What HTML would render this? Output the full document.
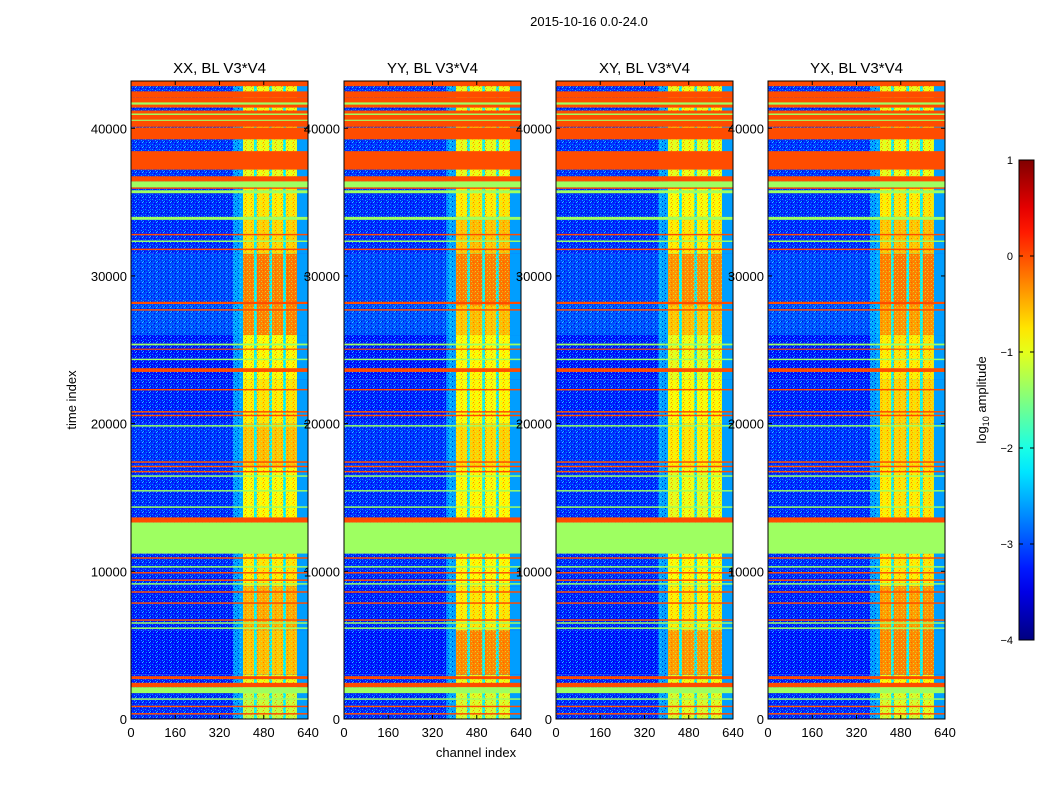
<!DOCTYPE html>
<html><head><meta charset="utf-8"><style>
body{margin:0;background:#fff;width:1050px;height:800px;overflow:hidden;font-family:"Liberation Sans",sans-serif}
svg{display:block}
</style></head><body>
<svg id="fig" width="1050" height="800" xmlns="http://www.w3.org/2000/svg">
<defs>
<pattern id="noise" width="7" height="5" patternUnits="userSpaceOnUse">
<rect x="1" y="0" width="1" height="1" fill="#00c8ff"/>
<rect x="4" y="1" width="1" height="1" fill="#0000c0"/>
<rect x="2" y="2" width="1" height="1" fill="#40e0ff"/>
<rect x="6" y="2" width="1" height="1" fill="#0090ff"/>
<rect x="0" y="3" width="1" height="1" fill="#0000d8"/>
<rect x="5" y="4" width="1" height="1" fill="#00b0ff"/>
<rect x="3" y="4" width="1" height="1" fill="#0070ff"/>
<rect x="6" y="0" width="1" height="1" fill="#0030ff"/>
<rect x="3" y="1" width="1" height="1" fill="#00e0ff"/>
</pattern>
<pattern id="rfinoise" width="6" height="4" patternUnits="userSpaceOnUse">
<rect x="0" y="0" width="1" height="1" fill="#ff9000"/>
<rect x="3" y="1" width="1" height="1" fill="#a0ff60"/>
<rect x="5" y="2" width="1" height="1" fill="#ff5000"/>
<rect x="1" y="3" width="1" height="1" fill="#c0ff40"/>
<rect x="4" y="3" width="1" height="1" fill="#ffc000"/>
</pattern>
<linearGradient id="jet" x1="0" y1="1" x2="0" y2="0"></linearGradient>
</defs>
<text x="589" y="26" font-size="13" text-anchor="middle">2015-10-16 0.0-24.0</text>
<text x="476" y="757" font-size="13" text-anchor="middle">channel index</text>
<text transform="translate(76,400) rotate(-90)" font-size="13" text-anchor="middle">time index</text>
<g id="cb">
<rect x="1019" y="160" width="15" height="480" fill="url(#jet)" stroke="#000" stroke-width="1"/>
</g>
<text transform="translate(986,400) rotate(-90)" font-size="13" text-anchor="middle">log<tspan font-size="9" dy="3">10</tspan><tspan dy="-3"> amplitude</tspan></text>
</svg>
<script>
const titles = ["XX, BL V3*V4","YY, BL V3*V4","XY, BL V3*V4","YX, BL V3*V4"];
const xTicks = [0,160,320,480,640];
const yTicks = [0,10000,20000,30000,40000];
const cbTicks = [1,0,-1,-2,-3,-4];
// time bands: start, end, background log-amplitude
const bandStart = [0,2000,3000,6000,9000,13300,17000,20000,23000,26000,28000,31500,34000,36000];
const bandEnd   = [2000,3000,6000,9000,11200,17000,20000,23000,26000,28000,31500,34000,36000,43200];
const bgLevel   = [-3.2,-3.25,-3.3,-3.25,-3.2,-3.2,-3.15,-3.25,-3.3,-3.0,-3.05,-3.2,-3.2,-3.15];
// RFI column level per band, per panel
const rfiXX = [-1.2,-1.0,-0.6,-0.5,-0.8,-0.9,-0.6,-0.8,-0.9,-0.3,-0.25,-0.7,-0.8,-1.0];
const rfiYY = [-1.1,-1.0,-0.3,-0.8,-0.9,-0.9,-0.7,-0.9,-0.9,-0.6,-0.25,-0.6,-0.8,-1.0];
const rfiXY = [-1.1,-1.0,-0.4,-0.8,-0.9,-1.0,-0.8,-0.9,-1.0,-0.6,-0.35,-0.8,-0.9,-1.0];
const rfiYX = [-1.1,-0.9,-0.3,-0.4,-0.8,-0.8,-0.7,-0.7,-0.8,-0.4,-0.25,-0.6,-0.8,-1.0];
const rfiSets = [rfiXX,rfiYY,rfiXY,rfiYX];
const rfiColStart = [405,455,510,560];
const rfiColEnd   = [445,500,550,600];
// flagged bands
const orangeStart = [42850,42100,41400,40100,39250,37200,36400,35900,32750,31750,28100,27650,25000,23500,22250,20750,20500,17350,17050,16700,13300,10850,9850,9350,8550,7800,6650,2700,2150,800,300];
const orangeEnd   = [43200,42500,42100,41200,40050,38450,36750,36000,32850,31850,28250,27750,25080,23750,22350,20850,20600,17450,17150,16800,13650,10950,9950,9450,8650,7900,6750,2900,2450,900,400];
const greenStart = [41600,40900,40500,36000,35600,33800,32300,25300,24300,19800,16400,15400,14300,11200,10250,9100,6450,6100,1750,1300];
const greenEnd   = [41750,41000,40580,36400,35800,34000,32400,25420,24400,19900,16500,15500,14400,13300,10350,9200,6550,6200,2150,1400];
const orangeLevel = 0.0, greenLevel = -1.35, gapLevel = -2.2, edgeLevel = -2.6;

const panelX = [131,344,556,768], panelW = 177, plotTop = 81, plotBottom = 719, tMax = 43200;
const vmin = -4, vmax = 1;
function jetX(x){
  x = Math.max(0,Math.min(1,x));
  const c = k => Math.round(255*Math.max(0,Math.min(1,1.5-Math.abs(4*x-k))));
  return `rgb(${c(3)},${c(2)},${c(1)})`;
}
function jet(v){ return jetX((v-vmin)/(vmax-vmin)); }
const NS = "http://www.w3.org/2000/svg";
const svg = document.getElementById('fig');
function el(tag, attrs, parent){
  const e = document.createElementNS(NS, tag);
  for (const k in attrs) e.setAttribute(k, attrs[k]);
  (parent||svg).appendChild(e); return e;
}
const grad = document.getElementById('jet');
for (let i = 0; i <= 20; i++) el('stop', {offset: i/20, 'stop-color': jetX(i/20)}, grad);

function yScale(t){ return plotBottom - (t/tMax)*(plotBottom-plotTop); }
titles.forEach((title, p) => {
  const x0 = panelX[p];
  const xScale = ch => x0 + ch/640*panelW;
  const g = el('g', {});
  
  
  const rfi = rfiSets[p];
  bandStart.forEach((s, i) => {
    const y1 = yScale(bandEnd[i]), y2 = yScale(s);
    const r = el('rect', {x:x0, y:y1, width:panelW, height:y2-y1, fill:jet(bgLevel[i])}, g);
    
    
    const tr = el('rect', {x:xScale(370), y:y1, width:xScale(405)-xScale(370), height:y2-y1, fill:jet(-2.4), opacity:0.8}, g);
    
    
    const gp = el('rect', {x:xScale(405), y:y1, width:xScale(600)-xScale(405), height:y2-y1, fill:jet(gapLevel)}, g);
    
    
    const ed = el('rect', {x:xScale(600), y:y1, width:xScale(640)-xScale(600), height:y2-y1, fill:jet(edgeLevel)}, g);
    
    
    rfiColStart.forEach((cs, j) => {
      const c = el('rect', {x:xScale(cs), y:y1, width:xScale(rfiColEnd[j])-xScale(cs), height:y2-y1, fill:jet(rfi[i] + (j%2?0.05:0))}, g);
      
      
    });
  });
  const nz = el('rect', {x:x0, y:plotTop, width:xScale(400)-x0, height:plotBottom-plotTop, fill:'url(#noise)', opacity:0.85}, g);
  
  
  const nz2 = el('rect', {x:xScale(405), y:plotTop, width:xScale(600)-xScale(405), height:plotBottom-plotTop, fill:'url(#rfinoise)', opacity:0.7}, g);
  
  
  orangeStart.forEach((s, i) => {
    const y1 = yScale(orangeEnd[i]), y2 = yScale(s);
    const r = el('rect', {x:x0, y:y1, width:panelW, height:Math.max(1,y2-y1), fill:jet(orangeLevel)}, g);
    
    
  });
  greenStart.forEach((s, i) => {
    const y1 = yScale(greenEnd[i]), y2 = yScale(s);
    const r = el('rect', {x:x0, y:y1, width:panelW, height:Math.max(1,y2-y1), fill:jet(greenLevel)}, g);
    
    
  });
  const fr = el('rect', {x:x0, y:plotTop, width:panelW, height:plotBottom-plotTop, fill:'none', stroke:'#000', 'stroke-width':1});
  
  
  const tt = el('text', {x:x0+panelW/2, y:73, 'font-size':15, 'text-anchor':'middle'});
  tt.textContent = title;
  
  
  xTicks.forEach(v => {
    const x = xScale(v);
    el('line', {x1:x, x2:x, y1:plotBottom, y2:plotBottom-4, stroke:'#000'});
    el('line', {x1:x, x2:x, y1:plotTop, y2:plotTop+4, stroke:'#000'});
    const t = el('text', {x:x, y:plotBottom+18, 'font-size':13, 'text-anchor':'middle'});
    t.textContent = v;
    
    
  });
  yTicks.forEach(v => {
    const y = yScale(v);
    el('line', {x1:x0, x2:x0+4, y1:y, y2:y, stroke:'#000'});
    el('line', {x1:x0+panelW, x2:x0+panelW-4, y1:y, y2:y, stroke:'#000'});
    const t = el('text', {x:x0-4, y:y+5, 'font-size':13, 'text-anchor':'end'});
    t.textContent = v;
    
    
  });
});
cbTicks.forEach(v => {
  const y = 160 + (vmax - v)/(vmax-vmin)*480;
  el('line', {x1:1019, x2:1023, y1:y, y2:y, stroke:'#000'});
  el('line', {x1:1030, x2:1034, y1:y, y2:y, stroke:'#000'});
  const t = el('text', {x:1013, y:y+4, 'font-size':11, 'text-anchor':'end'});
  t.textContent = v < 0 ? '\u2212' + (-v) : String(v);
  
  
});
</script>
</body></html>
